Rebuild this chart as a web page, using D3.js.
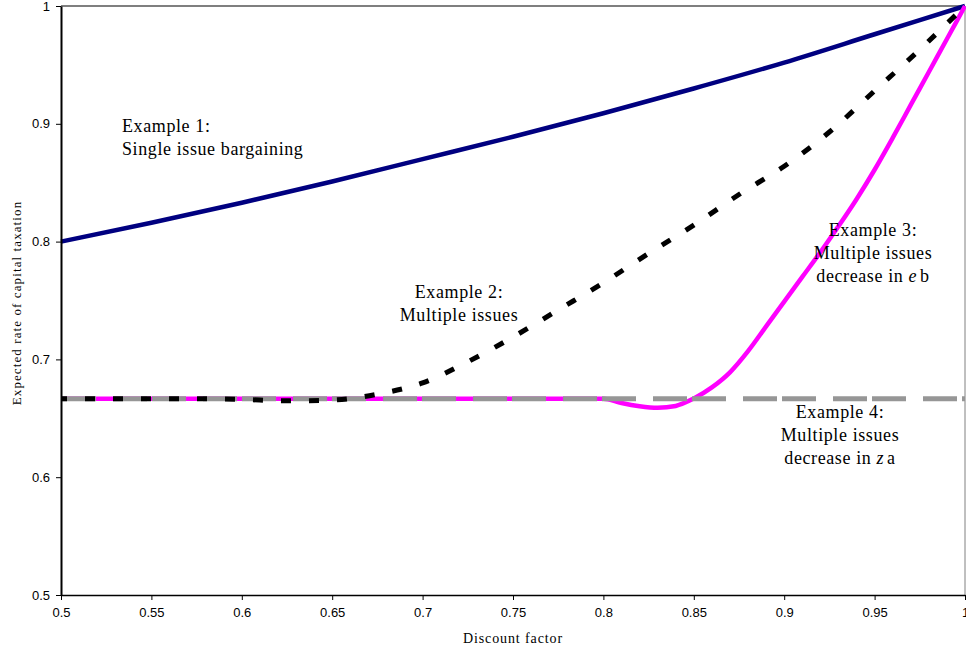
<!DOCTYPE html>
<html>
<head>
<meta charset="utf-8">
<script src="https://cdn.jsdelivr.net/npm/d3@7"></script>
<style>
  html, body { margin: 0; padding: 0; background: #fff; }
  svg { display: block; }
</style>
</head>
<body>
<div id="chart"></div>
<script>
// Discount factor grid and expected capital tax rate for each example
const deltaEx1 = [0.5, 0.55, 0.6, 0.65, 0.7, 0.75, 0.8, 0.85, 0.9, 0.95, 1.0];
const rateEx1  = [0.800, 0.816, 0.833, 0.851, 0.870, 0.889, 0.909, 0.930, 0.952, 0.976, 1.000];

const deltaEx2 = [0.5, 0.525, 0.55, 0.575, 0.6, 0.625, 0.65, 0.675, 0.7, 0.725, 0.75, 0.775, 0.8, 0.825, 0.85, 0.875, 0.9, 0.925, 0.95, 0.975, 1.0];
const rateEx2  = [0.6667, 0.6667, 0.6667, 0.6666, 0.6660, 0.6648, 0.6655, 0.6705, 0.680, 0.698, 0.719, 0.742, 0.765, 0.790, 0.814, 0.840, 0.864, 0.893, 0.928, 0.963, 1.000];

const deltaEx3 = [0.5, 0.6, 0.7, 0.8, 0.81, 0.82, 0.83, 0.84, 0.85, 0.86, 0.87, 0.88, 0.89, 0.9, 0.91, 0.92, 0.93, 0.94, 0.95, 0.96, 0.97, 0.98, 0.99, 1.0];
const rateEx3  = [0.6667, 0.6667, 0.6667, 0.6667, 0.6630, 0.6603, 0.6590, 0.6605, 0.6668, 0.6762, 0.6890, 0.7070, 0.7280, 0.7490, 0.7700, 0.7910, 0.8130, 0.8360, 0.8610, 0.8880, 0.9160, 0.9440, 0.9720, 1.000];

const deltaEx4 = [0.5, 0.55, 0.6, 0.65, 0.7, 0.75, 0.8, 0.85, 0.9, 0.95, 1.0];
const rateEx4  = [0.6667, 0.6667, 0.6667, 0.6667, 0.6667, 0.6667, 0.6667, 0.6667, 0.6667, 0.6667, 0.6667];

const xTicks = [0.5, 0.55, 0.6, 0.65, 0.7, 0.75, 0.8, 0.85, 0.9, 0.95, 1];
const xTickLabels = ["0.5", "0.55", "0.6", "0.65", "0.7", "0.75", "0.8", "0.85", "0.9", "0.95", "1"];
const yTicks = [0.5, 0.6, 0.7, 0.8, 0.9, 1];
const yTickLabels = ["0.5", "0.6", "0.7", "0.8", "0.9", "1"];

const W = 966, H = 654;
const plot = { left: 61, right: 965, top: 6, bottom: 595 };

const svg = d3.select("#chart").append("svg")
  .attr("width", W).attr("height", H);

const x = d3.scaleLinear().domain([0.5, 1]).range([plot.left, plot.right]);
const y = d3.scaleLinear().domain([0.5, 1]).range([plot.bottom, plot.top]);

// Frame: top edge black, right edge grey
svg.append("line")
  .attr("x1", plot.left).attr("x2", plot.right)
  .attr("y1", plot.top).attr("y2", plot.top)
  .attr("stroke", "#000").attr("stroke-width", 1.2);
svg.append("line")
  .attr("x1", plot.right).attr("x2", plot.right)
  .attr("y1", plot.top).attr("y2", plot.bottom)
  .attr("stroke", "#808080").attr("stroke-width", 1);

const zip = (xs, ys) => xs.map((d, i) => [d, ys[i]]);
const line = d3.line()
  .x(d => x(d[0])).y(d => y(d[1]))
  .curve(d3.curveMonotoneX);

const series = svg.append("g").attr("fill", "none");

// Example 1: single issue bargaining
series.append("path")
  .attr("d", line(zip(deltaEx1, rateEx1)))
  .attr("stroke", "#000080").attr("stroke-width", 4.5);

// Example 3: multiple issues, decrease in e
series.append("path")
  .attr("d", line(zip(deltaEx3, rateEx3)))
  .attr("stroke", "#ff00ff").attr("stroke-width", 4.5);

// Example 4: multiple issues, decrease in z
series.append("path")
  .attr("d", line(zip(deltaEx4, rateEx4)))
  .attr("stroke", "#969696").attr("stroke-width", 5)
  .attr("stroke-dasharray", "34,5,34,17")
  .attr("stroke-dashoffset", 38);

// Example 2: multiple issues
series.append("path")
  .attr("d", line(zip(deltaEx2, rateEx2)))
  .attr("stroke", "#000").attr("stroke-width", 5)
  .attr("stroke-dasharray", "10,18")
  .attr("stroke-dashoffset", 4);

// Axes
const xAxis = d3.axisBottom(x)
  .tickValues(xTicks)
  .tickFormat((d, i) => xTickLabels[i])
  .tickSizeInner(5).tickSizeOuter(0).tickPadding(8);
const gx = svg.append("g")
  .attr("transform", `translate(0,${plot.bottom})`)
  .call(xAxis);
gx.select(".domain").attr("stroke", "#000").attr("stroke-width", 1.5);
gx.selectAll(".tick line").attr("stroke", "#000").attr("stroke-width", 1);
gx.selectAll(".tick text")
  .attr("font-family", "Liberation Sans, Arial, sans-serif")
  .attr("font-size", 13).attr("fill", "#000");

const yAxis = d3.axisLeft(y)
  .tickValues(yTicks)
  .tickFormat((d, i) => yTickLabels[i])
  .tickSizeInner(5).tickSizeOuter(0).tickPadding(6);
const gy = svg.append("g")
  .attr("transform", `translate(${plot.left},0)`)
  .call(yAxis);
gy.select(".domain").attr("stroke", "#000").attr("stroke-width", 2);
gy.selectAll(".tick line").attr("stroke", "#000").attr("stroke-width", 1);
gy.selectAll(".tick text")
  .attr("font-family", "Liberation Sans, Arial, sans-serif")
  .attr("font-size", 13).attr("fill", "#000");

// Axis titles
const serif = "Liberation Serif, Times New Roman, serif";
svg.append("text")
  .attr("x", 513).attr("y", 643)
  .attr("text-anchor", "middle")
  .attr("font-family", serif).attr("font-size", 14)
  .attr("letter-spacing", "0.9px")
  .text("Discount factor");

svg.append("text")
  .attr("transform", "translate(21,303) rotate(-90)")
  .attr("text-anchor", "middle")
  .attr("font-family", serif).attr("font-size", 13)
  .attr("letter-spacing", "1.1px")
  .text("Expected rate of capital taxation");

// Series annotations
const notes = svg.append("g")
  .attr("font-family", serif).attr("font-size", 18)
  .attr("letter-spacing", "0.6px").attr("fill", "#000");

function note(xPos, yPos, anchor, lines) {
  const t = notes.append("text").attr("text-anchor", anchor);
  lines.forEach((parts, i) => {
    const ln = t.append("tspan").attr("x", xPos).attr("y", yPos + i * 23);
    parts.forEach(p => {
      const s = ln.append("tspan").text(p.t);
      if (p.it) s.attr("font-style", "italic");
      if (p.dx) s.attr("dx", p.dx);
    });
  });
}

note(122, 132, "start", [[{ t: "Example 1:" }], [{ t: "Single issue bargaining" }]]);
note(459, 298, "middle", [[{ t: "Example 2:" }], [{ t: "Multiple issues" }]]);
note(873, 236, "middle", [
  [{ t: "Example 3:" }],
  [{ t: "Multiple issues" }],
  [{ t: "decrease in " }, { t: "e", it: true }, { t: "b", dx: 3 }]
]);
note(840, 418, "middle", [
  [{ t: "Example 4:" }],
  [{ t: "Multiple issues" }],
  [{ t: "decrease in " }, { t: "z", it: true }, { t: "a", dx: 3 }]
]);
</script>
</body>
</html>
